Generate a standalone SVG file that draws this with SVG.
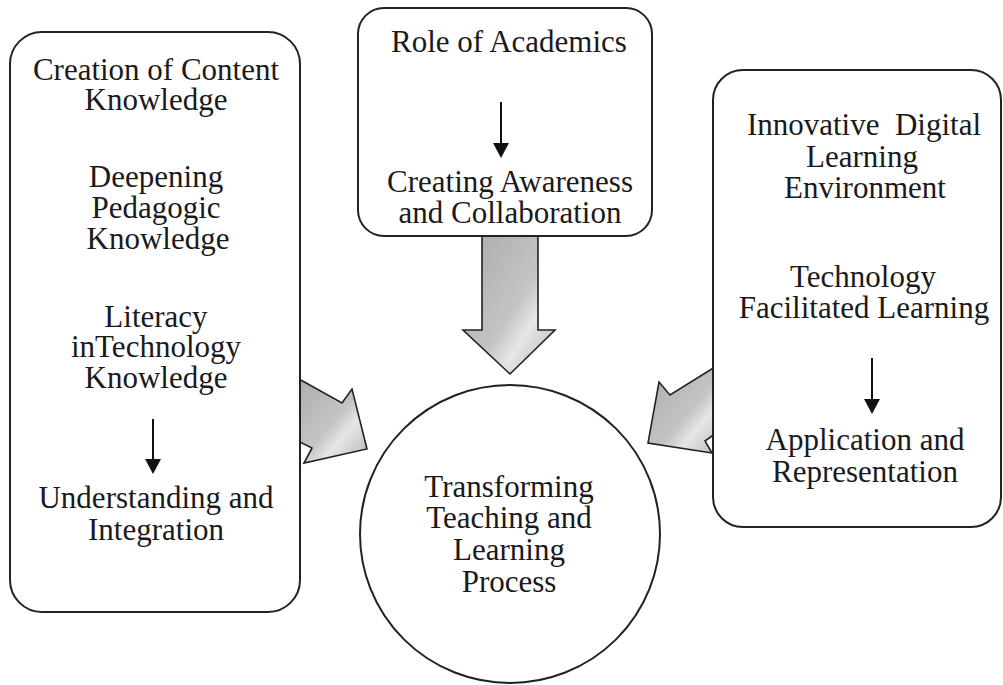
<svg xmlns="http://www.w3.org/2000/svg" width="1003" height="685" viewBox="0 0 1003 685">
  <style>
    .box { fill: #ffffff; stroke: #222222; stroke-width: 2; }
    .block { fill: url(#grayGrad); stroke: #222222; stroke-width: 1.6; stroke-linejoin: miter; }
    .t { font-family: "Liberation Serif", "Times New Roman", serif; font-size: 31px; fill: #1a1a1a; text-anchor: middle; }
    .arr { stroke: #111111; stroke-width: 2; fill: none; }
    .head { fill: #111111; }
  </style>
  <defs>
    <linearGradient id="grayGrad" x1="0" y1="0" x2="1" y2="1">
      <stop offset="0" stop-color="#a9a9a9"/>
      <stop offset="0.55" stop-color="#c4c4c4"/>
      <stop offset="0.7" stop-color="#e6e6e6"/>
      <stop offset="1" stop-color="#b3b3b3"/>
    </linearGradient>
  </defs>

  <g id="connectors">
    <polygon class="block" points="482,230 538,230 538,330 555,330 510,374 463,330 482,330"/>
    <polygon class="block" points="290,374 342,403 352,389 367,449 304,463 312,448 290,437"/>
    <polygon class="block" points="723,362 670,395 659,382 648,443 712,453 705,441 723,428"/>
  </g>

  <g id="node-left">
    <rect class="box" x="10" y="32" width="290" height="580" rx="32" ry="32"/>
    <text class="t" x="156" y="80">Creation of Content</text>
    <text class="t" x="156" y="110">Knowledge</text>
    <text class="t" x="156" y="187">Deepening</text>
    <text class="t" x="156" y="218">Pedagogic</text>
    <text class="t" x="158" y="249">Knowledge</text>
    <text class="t" x="156" y="327">Literacy</text>
    <text class="t" x="156" y="357">inTechnology</text>
    <text class="t" x="156" y="388">Knowledge</text>
    <line class="arr" x1="153" y1="419" x2="153" y2="462"/>
    <polygon class="head" points="145,459 161,459 153,474"/>
    <text class="t" x="156" y="508">Understanding and</text>
    <text class="t" x="156" y="540">Integration</text>
  </g>

  <g id="node-top">
    <rect class="box" x="358" y="8" width="294" height="228" rx="26" ry="26"/>
    <text class="t" x="509" y="52">Role of Academics</text>
    <line class="arr" x1="501" y1="102" x2="501" y2="146"/>
    <polygon class="head" points="493,143 509,143 501,158"/>
    <text class="t" x="510" y="192">Creating Awareness</text>
    <text class="t" x="510" y="223">and Collaboration</text>
  </g>

  <g id="node-right">
    <rect class="box" x="713" y="70" width="288" height="457" rx="30" ry="30"/>
    <text class="t" x="864" y="135" xml:space="preserve">Innovative  Digital</text>
    <text class="t" x="862" y="167">Learning</text>
    <text class="t" x="865" y="198">Environment</text>
    <text class="t" x="863" y="287">Technology</text>
    <text class="t" x="864" y="318">Facilitated Learning</text>
    <line class="arr" x1="872" y1="358" x2="872" y2="402"/>
    <polygon class="head" points="864,399 880,399 872,414"/>
    <text class="t" x="865" y="450">Application and</text>
    <text class="t" x="865" y="482">Representation</text>
  </g>

  <g id="node-center">
    <ellipse class="box" cx="510" cy="534" rx="150" ry="149"/>
    <text class="t" x="509" y="497">Transforming</text>
    <text class="t" x="509" y="528">Teaching and</text>
    <text class="t" x="509" y="560">Learning</text>
    <text class="t" x="509" y="592">Process</text>
  </g>
</svg>
